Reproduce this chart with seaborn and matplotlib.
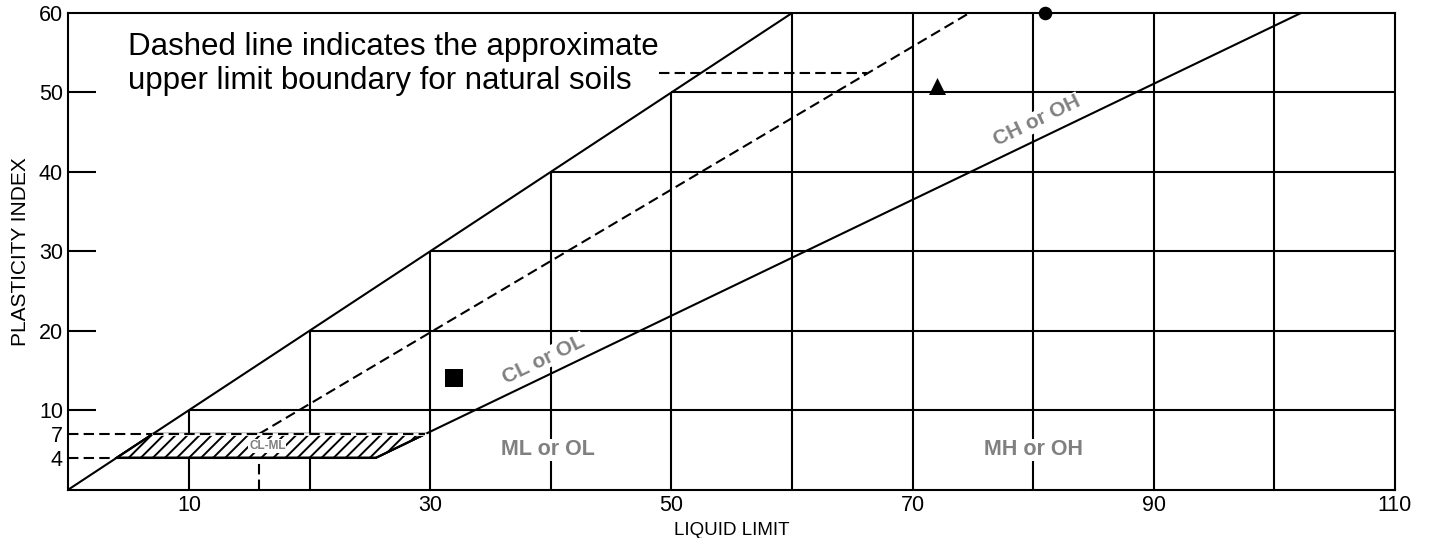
import numpy as np
import pandas as pd
import seaborn as sns
import matplotlib
matplotlib.use('Agg')
from matplotlib import pyplot as plt
from matplotlib.patches import Polygon
from matplotlib.collections import LineCollection

# datos del grafico de plasticidad
grid_vals = [10, 20, 30, 40, 50, 60]
grid_full_x = [70, 80, 90, 100]
x_labels = [10, 30, 50, 70, 90, 110]
y_labels = [4, 7, 10, 20, 30, 40, 50, 60]

# linea A (solida) y linea U (discontinua)
a_line_ll = [25.5, 102.2]
a_line_pi = [4, 60]
u_line_ll = [15.8, 74.7]
u_line_pi = [7, 60]
# linea PI = LL
diag_ll = [0, 60]
diag_pi = [0, 60]

# zona CL-ML (rayada)
clml_ll = [4, 7, 29.6, 25.5]
clml_pi = [4, 7, 7, 4]

# muestras
sample_ll = [81.0, 72.0, 31.95]
sample_pi = [60.0, 50.8, 14.0]
sample_name = ['S1', 'S2', 'S3']
sample_marker = {'S1': 'o', 'S2': '^', 'S3': 's'}
sample_size = {'S1': 95, 'S2': 150, 'S3': 150}

# etiquetas de zonas
zone_text = ['CL or OL', 'CH or OH', 'ML or OL', 'MH or OH', 'CL-ML']
zone_ll = [39.4, 80.3, 39.8, 80.0, 16.5]
zone_pi = [16.4, 46.4, 5.0, 5.0, 5.5]
zone_rot = [25.7, 25.7, 0, 0, 0]
zone_size = [15, 15, 15.5, 15.5, 8.5]

note_ll = [49.0, 66.2]
note_pi = [52.5, 52.5]

sns.set_theme(style='white')
plt.rcParams['font.family'] = ['Liberation Sans', 'DejaVu Sans']

fig = plt.figure(figsize=(14.29, 5.38), dpi=100)
ax = fig.add_axes([0.0479, 0.0901, 0.9283, 0.8857])

lw = 1.5
dash = (0, (5, 2.5))

# cuadricula escalonada
for g in grid_vals:
    ax.vlines(g, 0, g, color='black', lw=lw, zorder=1)
    if g < 60:
        ax.hlines(g, g, 110, color='black', lw=lw, zorder=1)
ax.vlines(grid_full_x, 0, 60, color='black', lw=lw, zorder=1)

# marcas cortas del eje y
ax.hlines([10, 20, 30, 40, 50], 0, 0.021, transform=ax.get_yaxis_transform(),
          color='black', lw=lw, zorder=1)

sns.lineplot(x=diag_ll, y=diag_pi, color='black', lw=lw, ax=ax, zorder=2)
sns.lineplot(x=a_line_ll, y=a_line_pi, color='black', lw=lw, ax=ax, zorder=2)
ax.plot(u_line_ll, u_line_pi, color='black', lw=lw, ls=dash, zorder=2)

# zona CL-ML
poly = Polygon(np.column_stack([clml_ll, clml_pi]), closed=True, facecolor='white',
               edgecolor='black', lw=lw, zorder=3)
ax.add_patch(poly)
offs = np.arange(-2, 30, 1.0)
segs = [[(c, 4), (c + 1.98, 7)] for c in offs]
hatch = LineCollection(segs, colors='black', linewidths=1.4, zorder=3)
ax.add_collection(hatch)
hatch.set_clip_path(poly)
ax.add_patch(Polygon(np.column_stack([clml_ll, clml_pi]), closed=True, fill=False,
                     edgecolor='black', lw=lw, zorder=3.5))
ax.plot([clml_ll[1], clml_ll[2]], [7, 7], color='white', lw=lw + 0.5, zorder=3.6)
ax.plot([clml_ll[0], clml_ll[3]], [4, 4], color='black', lw=lw, zorder=3.7)
ax.plot([clml_ll[1], clml_ll[2]], [7, 7], color='black', lw=lw, ls=dash, zorder=3.7)

# lineas discontinuas auxiliares
ax.plot([0, 7], [7, 7], color='black', lw=lw, ls=dash, zorder=2)
ax.plot([0, 4], [4, 4], color='black', lw=lw, ls=dash, zorder=2)
ax.plot([u_line_ll[0], u_line_ll[0]], [0, 4], color='black', lw=lw, ls=dash, zorder=2)
ax.plot(note_ll, note_pi, color='black', lw=lw, ls=dash, zorder=2)

# textos de zonas
for t, x, y, r, s in zip(zone_text, zone_ll, zone_pi, zone_rot, zone_size):
    ax.text(x, y, t, color='#808080', fontsize=s, fontweight='bold', rotation=r,
            ha='center', va='center', zorder=4,
            bbox=dict(facecolor='white', edgecolor='none', pad=0.5))

ax.text(4.9, 57.6, 'Dashed line indicates the approximate\nupper limit boundary for natural soils',
        fontsize=22.5, ha='left', va='top', color='black', linespacing=1.15, zorder=4)

# muestras
df = pd.DataFrame({'LL': sample_ll, 'PI': sample_pi, 'sample': sample_name})
for name, sub in df.groupby('sample'):
    sns.scatterplot(data=sub, x='LL', y='PI', marker=sample_marker[name], s=sample_size[name],
                    color='black', edgecolor='black', linewidth=0, ax=ax, zorder=5,
                    clip_on=False, legend=False)

ax.set_xlim(0, 110)
ax.set_ylim(0, 60)
ax.set_xticks(x_labels)
ax.set_yticks(y_labels)
ax.tick_params(axis='both', length=0, labelsize=15.5, colors='black')
ax.tick_params(axis='x', pad=4)
ax.tick_params(axis='y', pad=4)
ax.set_xlabel('LIQUID LIMIT', fontsize=13.5, labelpad=4, color='black')
ax.set_ylabel('PLASTICITY INDEX', fontsize=15, labelpad=6, color='black')
for sp in ax.spines.values():
    sp.set_color('black')
    sp.set_linewidth(lw)
    sp.set_visible(True)

fig.savefig('out.png', dpi=100)
